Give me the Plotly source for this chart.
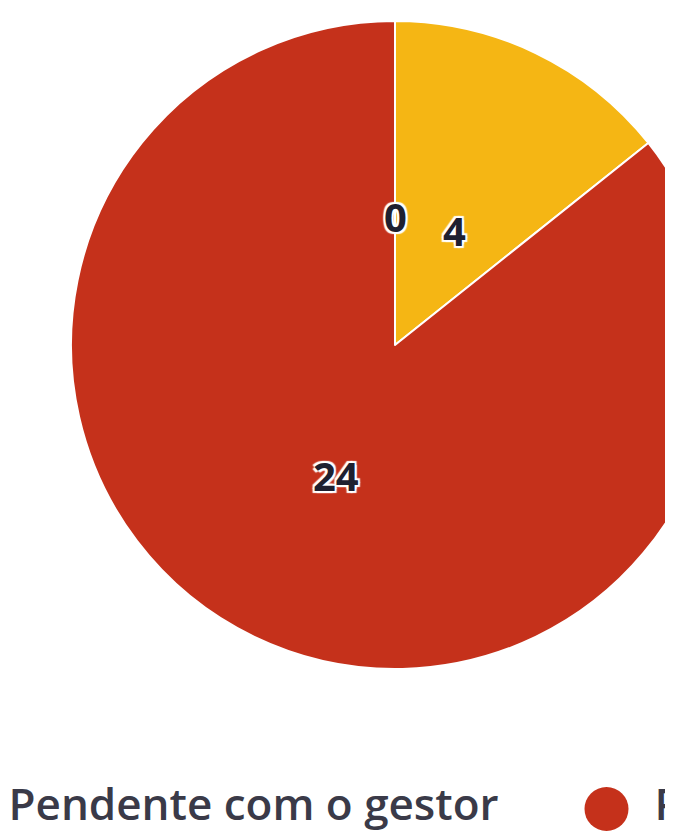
import math
import plotly.graph_objects as go

labels = ["Concluído", "Pendente com o gestor", "Pendente com o colaborador"]
values = [0, 4, 24]
colors = ["#2E8FA0", "#F5B614", "#C5311B"]

FONT = "Open Sans, Segoe UI, sans-serif"
W, H = 786, 840

# pie geometry (figure pixels), page has 8px body margin
dom_x = [0, 774 / W]
dom_y = [1 - 661 / H, 1 - 13 / H]
cx = W * (dom_x[0] + dom_x[1]) / 2
cy = H * (1 - (dom_y[0] + dom_y[1]) / 2)
R = H * (dom_y[1] - dom_y[0]) / 2

fig = go.Figure()

fig.add_trace(
    go.Pie(
        labels=labels,
        values=values,
        sort=False,
        direction="clockwise",
        rotation=0,
        marker=dict(colors=colors, line=dict(color="white", width=2)),
        textinfo="none",
        showlegend=False,
        hoverinfo="label+value",
        domain=dict(x=dom_x, y=dom_y),
    )
)

# data labels (Highcharts style: inside, dark text with white outline)
halo = "2px 2px 1px #fff, -2px -2px 1px #fff, 2px -2px 1px #fff, -2px 2px 1px #fff, 0 0 3px #fff"
total = sum(values)
cum = 0
annotations = []
for lab, v in zip(labels, values):
    mid = (cum + v / 2) / total * 2 * math.pi
    cum += v
    px = cx + 0.42 * R * math.sin(mid)
    py = cy - 0.42 * R * math.cos(mid) + 8
    annotations.append(
        dict(
            x=px / W,
            y=1 - py / H,
            xref="paper",
            yref="paper",
            xanchor="center",
            yanchor="middle",
            text=str(v),
            showarrow=False,
            font=dict(family=FONT, size=40, color="#1e2030", weight="bold", shadow=halo),
        )
    )

# Legend drawn by hand: big round symbols like the reference
legend_marker_x = [-520, -30, 598]
legend_text_x = [-480, 0, 646]
fig.add_trace(
    go.Scatter(
        x=legend_marker_x,
        y=[0] * len(labels),
        mode="markers",
        marker=dict(size=44, color=colors),
        cliponaxis=False,
        showlegend=False,
        hoverinfo="skip",
        xaxis="x2",
        yaxis="y2",
    )
)
fig.add_trace(
    go.Scatter(
        x=legend_text_x,
        y=[0] * len(labels),
        mode="text",
        text=labels,
        textposition="middle right",
        textfont=dict(family=FONT, size=44, color="#3a3a48", weight=600),
        cliponaxis=False,
        showlegend=False,
        hoverinfo="skip",
        xaxis="x2",
        yaxis="y2",
    )
)

fig.update_layout(
    width=W,
    height=H,
    margin=dict(l=0, r=0, t=0, b=0),
    paper_bgcolor="white",
    plot_bgcolor="white",
    annotations=annotations,
    xaxis2=dict(range=[-0.5, W - 0.5], domain=[0, 1], visible=False, anchor="y2"),
    yaxis2=dict(range=[-1, 1], domain=[0, 2 * (1 - 801 / H)], visible=False, anchor="x2"),
)

fig.write_html("out.html")
